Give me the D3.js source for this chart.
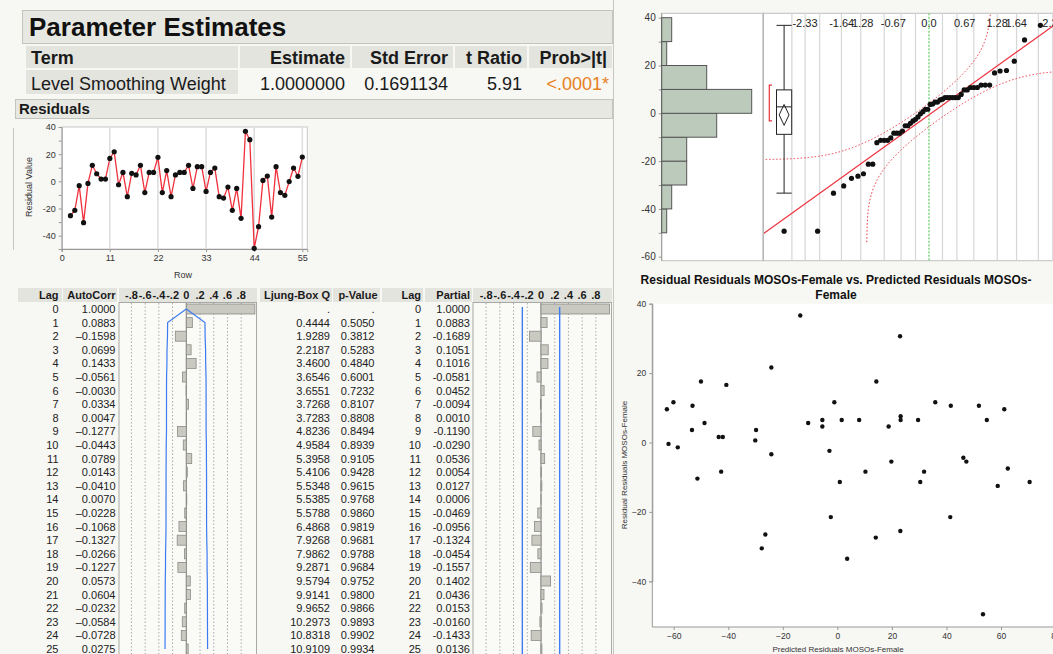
<!DOCTYPE html>
<html><head><meta charset="utf-8">
<script src="https://cdn.jsdelivr.net/npm/d3@7"></script>
<style>
html,body{margin:0;padding:0;background:#f7f7f3;}
svg{display:block;font-family:"Liberation Sans",Arial,Helvetica,sans-serif;}
</style></head><body>
<svg id="c" width="1053" height="654"></svg>
<script>
// ---------------- DATA ----------------
const paramHeaders = ["Term","Estimate","Std Error","t Ratio","Prob>|t|"];
const paramRow = ["Level Smoothing Weight","1.0000000","0.1691134","5.91","<.0001*"];

const firstRow = 2;
const residuals = [-25.3,-21.3,-3.2,-30.4,-1.5,11.8,5.6,1.7,1.7,16.9,21.8,-2.5,6.6,-11.3,5.9,4.7,11.8,-8.3,6.6,6.6,17.7,-8.3,7.9,-11.3,4.7,6.6,6.6,11.8,-5.2,10.8,10.8,-7.4,6.6,9.8,-11.3,-12.3,-4.2,-21.3,-5.2,-27.2,36.8,30.7,-49.3,-33.4,0.7,3.9,-26.3,10.8,-8.3,-10.3,-0.2,9.8,3.7,17.9];
const rowTicks = [0,11,22,33,44,55];
const residTicks = [-40,-20,0,20,40];

const lags = [0,1,2,3,4,5,6,7,8,9,10,11,12,13,14,15,16,17,18,19,20,21,22,23,24,25];
const autocorr = [1.0000,0.0883,-0.1598,0.0699,0.1433,-0.0561,-0.0030,0.0334,0.0047,-0.1277,-0.0443,0.0789,0.0143,-0.0410,0.0070,-0.0228,-0.1068,-0.1327,-0.0266,-0.1227,0.0573,0.0604,-0.0232,-0.0584,-0.0728,0.0275];
const ljungBox = [null,0.4444,1.9289,2.2187,3.4600,3.6546,3.6551,3.7268,3.7283,4.8236,4.9584,5.3958,5.4106,5.5348,5.5385,5.5788,6.4868,7.9268,7.9862,9.2871,9.5794,9.9141,9.9652,10.2973,10.8318,10.9109];
const pValues = [null,0.5050,0.3812,0.5283,0.4840,0.6001,0.7232,0.8107,0.8808,0.8494,0.8939,0.9105,0.9428,0.9615,0.9768,0.9860,0.9819,0.9681,0.9788,0.9684,0.9752,0.9800,0.9866,0.9893,0.9902,0.9934];
const partial = [1.0000,0.0883,-0.1689,0.1051,0.1016,-0.0581,0.0452,-0.0094,0.0010,-0.1190,-0.0290,0.0536,0.0054,0.0127,0.0006,-0.0469,-0.0956,-0.1324,-0.0454,-0.1557,0.1402,0.0436,0.0153,-0.0160,-0.1433,0.0136];
const corrTicks = [-0.8,-0.6,-0.4,-0.2,0,0.2,0.4,0.6,0.8];
const corrTickLabels = ["-.8","-.6","-.4","-.2","0",".2",".4",".6",".8"];

const distTicks = [-60,-40,-20,0,20,40];
const quantileLabelZ = [-2.33,-1.64,-1.28,-0.67,0,0.67,1.28,1.64,2.33];
const quantileLabels = ["-2.33","-1.64","1.28","-0.67","0.0","0.67","1.28","1.64","2.33"];
const gridProbs = [0.005,0.01,0.02,0.05,0.1,0.2,0.3,0.4,0.5,0.6,0.7,0.8,0.9,0.95,0.98,0.99,0.995];

const scatterX = [-62.5,-61.9,-60.1,-58.5,-53.1,-53.3,-50.0,-48.7,-43.5,-42.0,-40.7,-30.1,-29.8,-24.2,-24.2,-13.6,-10.7,-5.5,-5.5,-2.9,-1.1,1.6,8.0,14.3,18.8,23.0,23.2,23.2,29.6,35.9,41.6,46.2,51.9,54.8,61.2,-51.3,-42.6,0.9,10.3,19.8,30.4,31.8,47.3,58.8,62.5,70.5,-2.4,-26.4,-27.7,3.6,14.1,23.1,41.4,53.4];
const scatterY = [9.6,-0.4,11.6,-1.4,10.6,3.6,17.6,5.6,1.6,1.6,16.6,0.6,3.6,21.6,-3.4,36.6,5.6,6.5,4.6,-2.4,11.6,6.5,6.5,17.6,4.6,30.6,7.6,6.5,6.5,11.6,10.6,-4.4,10.6,6.5,9.6,-10.4,-8.4,-11.4,-8.4,-5.5,-11.4,-8.4,-5.5,-12.5,-7.5,-11.4,-21.5,-26.5,-30.5,-33.5,-27.4,-25.5,-21.5,-49.5];
const scatterXTicks = [-60,-40,-20,0,20,40,60,80];
const scatterYTicks = [-40,-20,0,20,40];

// ---------------- HELPERS ----------------
function qnorm(p){
 const a=[-3.969683028665376e+01,2.209460984245205e+02,-2.759285104469687e+02,1.383577518672690e+02,-3.066479806614716e+01,2.506628277459239e+00];
 const b=[-5.447609879822406e+01,1.615858368580409e+02,-1.556989798598866e+02,6.680131188771972e+01,-1.328068155288572e+01];
 const c=[-7.784894002430293e-03,-3.223964580411365e-01,-2.400758277161838e+00,-2.549732539343734e+00,4.374664141464968e+00,2.938163982698783e+00];
 const d=[7.784695709041462e-03,3.224671290700398e-01,2.445134137142996e+00,3.754408661907416e+00];
 const pl=0.02425, ph=1-pl; let q,r;
 if(p<pl){q=Math.sqrt(-2*Math.log(p));return (((((c[0]*q+c[1])*q+c[2])*q+c[3])*q+c[4])*q+c[5])/((((d[0]*q+d[1])*q+d[2])*q+d[3])*q+1);}
 if(p<=ph){q=p-0.5;r=q*q;return (((((a[0]*r+a[1])*r+a[2])*r+a[3])*r+a[4])*r+a[5])*q/(((((b[0]*r+b[1])*r+b[2])*r+b[3])*r+b[4])*r+1);}
 q=Math.sqrt(-2*Math.log(1-p));return -(((((c[0]*q+c[1])*q+c[2])*q+c[3])*q+c[4])*q+c[5])/((((d[0]*q+d[1])*q+d[2])*q+d[3])*q+1);
}
function pnorm(z){ // Abramowitz-Stegun
  const t=1/(1+0.2316419*Math.abs(z));
  const y=0.3989423*Math.exp(-z*z/2)*t*(0.3193815+t*(-0.3565638+t*(1.781478+t*(-1.821256+t*1.330274))));
  return z>0?1-y:y;
}
const svg = d3.select('#c');
function txt(g,x,y,s,o={}){
  const t=g.append('text').attr('x',x).attr('y',y).text(s)
   .attr('font-size',o.size||11).attr('fill',o.fill||'#1a1a1a')
   .attr('text-anchor',o.anchor||'start');
  if(o.bold) t.attr('font-weight','bold');
  if(o.rot!==undefined) t.attr('transform',`rotate(${o.rot},${x},${y})`);
  return t;
}
const fmt4 = v => v<0 ? "-"+Math.abs(v).toFixed(4) : v.toFixed(4);

// ---------------- PARAMETER ESTIMATES ----------------
svg.append('rect').attr('x',22.5).attr('y',10.5).attr('width',590).attr('height',33).attr('fill','#e8e8e3').attr('stroke','#c4c4bf');
txt(svg,29,36,"Parameter Estimates",{size:26,bold:true,fill:'#111'});
const cellX=[26,240,352,455,529], cellW=[212,110,101,72,83];
paramHeaders.forEach((h,i)=>{
  svg.append('rect').attr('x',cellX[i]).attr('y',46).attr('width',cellW[i]).attr('height',22).attr('fill','#e4e4df');
  if(i===0) txt(svg,31,64,h,{size:18,bold:true});
  else txt(svg,cellX[i]+cellW[i]-5,64,h,{size:18,bold:true,anchor:'end'});
});
svg.append('rect').attr('x',26).attr('y',70).attr('width',212).attr('height',24).attr('fill','#e4e4df');
paramRow.forEach((v,i)=>{
  if(i===0) txt(svg,31,90,v,{size:18});
  else txt(svg,cellX[i]+cellW[i]-(i===4?3:5),90,v,{size:18,anchor:'end',fill:i===4?'#e8801e':'#1a1a1a'});
});

// ---------------- RESIDUALS PLOT ----------------
svg.append('rect').attr('x',15.5).attr('y',99.5).attr('width',597).attr('height',19).attr('fill','#e8e8e3').attr('stroke','#c4c4bf');
txt(svg,19,114,"Residuals",{size:15,bold:true});
svg.append('line').attr('x1',13.5).attr('x2',13.5).attr('y1',128).attr('y2',250).attr('stroke','#c8c8c3');
const xR=d3.scaleLinear([0,56.14],[61.7,307.3]);
const yR=d3.scaleLinear([-49.8,40],[249,127]);
const gR=svg.append('g');
gR.append('rect').attr('x',61.7).attr('y',127).attr('width',245.6).attr('height',122).attr('fill','#fff').attr('stroke','#c8c8c8');
gR.selectAll('.vg').data(rowTicks.slice(1)).join('line').attr('x1',d=>xR(d)).attr('x2',d=>xR(d)).attr('y1',127).attr('y2',249).attr('stroke','#dcdcdc').attr('stroke-width',1.5);
gR.append('g').attr('transform','translate(61.7,0)').call(d3.axisLeft(yR).tickValues(d3.range(-40,41,10)).tickSize(3).tickFormat(d=>residTicks.includes(d)?d:'')).call(g=>{g.select('.domain').attr('stroke','#999');g.selectAll('line').attr('stroke','#999');g.selectAll('text').attr('font-size',9).attr('fill','#333').attr('font-family','inherit');});
gR.append('g').attr('transform','translate(0,249)').call(d3.axisBottom(xR).tickValues(rowTicks).tickSize(3)).call(g=>{g.select('.domain').attr('stroke','#999');g.selectAll('line').attr('stroke','#999');g.selectAll('text').attr('font-size',9).attr('fill','#333').attr('font-family','inherit');});
txt(gR,183,278,"Row",{size:9,anchor:'middle',fill:'#333'});
txt(gR,32,187,"Residual Value",{size:9,anchor:'middle',rot:-90,fill:'#333'});
gR.append('path').datum(residuals).attr('fill','none').attr('stroke','#f0303c').attr('stroke-width',1.3)
  .attr('d',d3.line().x((d,i)=>xR(i+firstRow)).y(d=>yR(d)));
gR.selectAll('.pt').data(residuals).join('circle').attr('cx',(d,i)=>xR(i+firstRow)).attr('cy',d=>yR(d)).attr('r',2.6).attr('fill','#111');

// ---------------- AUTOCORR TABLES ----------------
const rowY = k => 309 + 13.6*k;
const n = residuals.length;
function headerCell(x,w,label,anchorX,anchor){
  svg.append('rect').attr('x',x).attr('y',288).attr('width',w).attr('height',14).attr('fill','#e4e4df');
  if(label) txt(svg,anchorX,299,label,{size:11,bold:true,anchor:anchor||'end'});
}
headerCell(18,44,"Lag",58.5);
headerCell(63,54,"AutoCorr",115.5);
headerCell(119,138,null);
headerCell(260,72,"Ljung-Box Q",330);
headerCell(333,47,"p-Value",377.5);
headerCell(382,41,"Lag",421);
headerCell(425,47,"Partial",470);
headerCell(473,139,null);

function corrChart(x0,x1,zero,values,band){
  const sc=d3.scaleLinear([-1,1],[zero-68.6,zero+68.6]);
  const g=svg.append('g');
  g.append('rect').attr('x',x0+0.5).attr('y',302.5).attr('width',x1-x0).attr('height',360).attr('fill','#fafaf7').attr('stroke','#a8a8a4');
  corrTicks.forEach((t,i)=>{
    txt(svg,sc(t),299,corrTickLabels[i],{size:11,bold:true,anchor:'middle'});
    if(t!==0) g.append('line').attr('x1',sc(t)).attr('x2',sc(t)).attr('y1',303).attr('y2',654).attr('stroke','#aaa').attr('stroke-dasharray','1.5,2');
  });
  g.append('line').attr('x1',sc(0)).attr('x2',sc(0)).attr('y1',303).attr('y2',654).attr('stroke','#777');
  g.selectAll('.bar').data(values).join('rect')
   .attr('x',d=>Math.min(sc(0),sc(d))).attr('width',d=>Math.abs(sc(d)-sc(0)))
   .attr('y',(d,i)=>rowY(i)-5).attr('height',10)
   .attr('fill','#c9c9c1').attr('stroke','#8c8c86').attr('stroke-width',0.8);
  band(g,sc);
}
corrChart(118.5,256,186.3,autocorr,(g,sc)=>{
  // Bartlett bands
  let cum=0; const pts=[[0,rowY(0)]];
  const up=[[0,rowY(0)]];
  for(let k=1;k<lags.length;k++){
    const se=Math.sqrt((1+2*cum)/n);
    pts.push([-2*se,rowY(k)]); up.push([2*se,rowY(k)]);
    cum+=autocorr[k]*autocorr[k];
  }
  const ln=d3.line().x(d=>sc(d[0])).y(d=>d[1]);
  [pts,up].forEach(p=>g.append('path').attr('d',ln(p)).attr('fill','none').attr('stroke','#3c7bf0').attr('stroke-width',1.2));
});
corrChart(472.5,611,541,partial,(g,sc)=>{
  const b=2/Math.sqrt(n);
  [-b,b].forEach(v=>g.append('line').attr('x1',sc(v)).attr('x2',sc(v)).attr('y1',rowY(0)-2).attr('y2',654).attr('stroke','#3c7bf0').attr('stroke-width',1.4));
});
lags.forEach((k,i)=>{
  const y=rowY(i)+4;
  txt(svg,58.5,y,String(k),{size:11,anchor:'end',fill:'#222'});
  txt(svg,115.5,y,fmt4(autocorr[i]).replace('-','\u2013'),{size:11,anchor:'end',fill:'#222'});
  txt(svg,330,y,ljungBox[i]===null?'.':ljungBox[i].toFixed(4),{size:11,anchor:'end',fill:'#222'});
  txt(svg,374.5,y,pValues[i]===null?'.':pValues[i].toFixed(4),{size:11,anchor:'end',fill:'#222'});
  txt(svg,421,y,String(k),{size:11,anchor:'end',fill:'#222'});
  txt(svg,470,y,fmt4(partial[i]),{size:11,anchor:'end',fill:'#222'});
});

// ---------------- DISTRIBUTION (top right) ----------------
svg.append('line').attr('x1',613.5).attr('x2',613.5).attr('y1',0).attr('y2',654).attr('stroke','#c8c8c3');
const yQ=d3.scaleLinear([-60,40],[256.7,17.7]);
const pTop=13.3, pBot=260.7;
svg.append('rect').attr('x',661.7).attr('y',pTop).attr('width',101.6).attr('height',pBot-pTop).attr('fill','#fff').attr('stroke','#c0c0c0');
svg.append('rect').attr('x',763.3).attr('y',pTop).attr('width',300).attr('height',pBot-pTop).attr('fill','#fff').attr('stroke','#c0c0c0');
svg.append('line').attr('x1',763.3).attr('x2',763.3).attr('y1',pTop).attr('y2',pBot).attr('stroke','#b8b8b8').attr('stroke-width',1.5);
svg.append('g').attr('transform','translate(661.7,0)').call(d3.axisLeft(yQ).tickValues(d3.range(-60,41,10)).tickSize(3).tickFormat(d=>distTicks.includes(d)?d:''))
 .call(g=>{g.select('.domain').remove();g.selectAll('line').attr('stroke','#999');g.selectAll('text').attr('font-size',10).attr('fill','#333').attr('font-family','inherit');});
svg.append('line').attr('x1',661.7).attr('x2',661.7).attr('y1',pTop).attr('y2',pBot).attr('stroke','#999');
// histogram
const bins=d3.bin().domain([-50,40]).thresholds(d3.range(-40,40,10))(residuals);
const xH=d3.scaleLinear([0,18],[661.7,751.7]);
svg.selectAll('.hb').data(bins).join('rect').attr('x',xH(0)).attr('width',d=>xH(d.length)-xH(0))
 .attr('y',d=>yQ(d.x1)).attr('height',d=>yQ(d.x0)-yQ(d.x1)).attr('fill','#bccabb').attr('stroke','#555').attr('stroke-width',1);

// quantile plot
const clip=svg.append('clipPath').attr('id','qc').append('rect').attr('x',764).attr('y',pTop).attr('width',300).attr('height',pBot-pTop);
const gQ=svg.append('g').attr('clip-path','url(#qc)');
const xQ=d3.scaleLinear([-1,1],[929-53.23,929+53.23]);
gridProbs.forEach(p=>{
  const z=qnorm(p);
  gQ.append('line').attr('x1',xQ(z)).attr('x2',xQ(z)).attr('y1',pTop).attr('y2',pBot)
   .attr('stroke',p===0.5?'#3cc23c':'#d6d6d6').attr('stroke-width',p===0.5?1:1.2).attr('stroke-dasharray',p===0.5?'2,1.5':null);
});
// box plot
const sorted=residuals.slice().sort(d3.ascending);
const qJ=p=>{const pos=p*(n+1);const i=Math.floor(pos);const f=pos-i;return sorted[i-1]+f*(sorted[i]-sorted[i-1]);};
const q1=qJ(0.25), q3=qJ(0.75), med=qJ(0.5), iqr=q3-q1;
const wHi=d3.max(sorted.filter(v=>v<=q3+1.5*iqr)), wLo=d3.min(sorted.filter(v=>v>=q1-1.5*iqr));
const mean=d3.mean(residuals), sd=d3.deviation(residuals);
const ci=2.006*sd/Math.sqrt(n);
const bx0=776.5,bx1=791.7,bc=(bx0+bx1)/2;
const gB=svg.append('g').attr('stroke','#222').attr('fill','none').attr('stroke-width',1);
gB.append('rect').attr('x',bx0).attr('y',yQ(q3)).attr('width',bx1-bx0).attr('height',yQ(q1)-yQ(q3)).attr('fill','#fff');
gB.append('line').attr('x1',bx0).attr('x2',bx1).attr('y1',yQ(med)).attr('y2',yQ(med));
gB.append('line').attr('x1',bc).attr('x2',bc).attr('y1',yQ(wHi)).attr('y2',yQ(q3));
gB.append('line').attr('x1',bc).attr('x2',bc).attr('y1',yQ(q1)).attr('y2',yQ(wLo));
gB.append('line').attr('x1',bx0).attr('x2',bx1).attr('y1',yQ(wHi)).attr('y2',yQ(wHi));
gB.append('line').attr('x1',bx0).attr('x2',bx1).attr('y1',yQ(wLo)).attr('y2',yQ(wLo));
gB.append('path').attr('d',`M${bc},${yQ(mean+ci)}L${bx1-2.7},${yQ(mean)}L${bc},${yQ(mean-ci)}L${bx0+2.7},${yQ(mean)}Z`);
svg.selectAll('.out').data(sorted.filter(v=>v<wLo||v>wHi)).join('circle').attr('cx',bc).attr('cy',d=>yQ(d)).attr('r',2.6).attr('fill','#111');
// shortest half
const h=Math.floor(n/2); let best=0;
for(let i=0;i+h<n;i++){ if(sorted[i+h]-sorted[i] < sorted[best+h]-sorted[best]) best=i; }
const shLo=sorted[best], shHi=sorted[best+h];
svg.append('path').attr('d',`M772,${yQ(shHi)}H769.3V${yQ(shLo)}H772`).attr('fill','none').attr('stroke','#e8303a').attr('stroke-width',1.2);
// fit line and Lilliefors bands
gQ.append('line').attr('x1',xQ(-3.2)).attr('x2',xQ(3.2)).attr('y1',yQ(mean-3.2*sd)).attr('y2',yQ(mean+3.2*sd)).attr('stroke','#ee3340').attr('stroke-width',1.2);
const D=0.886/Math.sqrt(n);
const zs=d3.range(-3.2,3.2001,0.01);
const upperB=zs.filter(z=>pnorm(z)+D<0.99995).map(z=>[z,mean+sd*qnorm(pnorm(z)+D)]);
const lowerB=zs.filter(z=>pnorm(z)-D>0.00005).map(z=>[z,mean+sd*qnorm(pnorm(z)-D)]);
const lnQ=d3.line().x(d=>xQ(d[0])).y(d=>yQ(d[1]));
[upperB,lowerB].forEach(b=>gQ.append('path').attr('d',lnQ(b)).attr('fill','none').attr('stroke','#ee3340').attr('stroke-width',1).attr('stroke-dasharray','1.5,2'));
gQ.selectAll('.qp').data(sorted).join('circle').attr('cx',(d,i)=>xQ(qnorm((i+1)/(n+1)))).attr('cy',d=>yQ(d)).attr('r',2.6).attr('fill','#111');
quantileLabelZ.forEach((z,i)=>txt(svg,xQ(z),27,(z===-1.28?'-1.28':quantileLabels[i]),{size:11,anchor:'middle',fill:'#222'}));

// ---------------- SCATTER ----------------
txt(svg,836,284,"Residual Residuals MOSOs-Female vs. Predicted Residuals MOSOs-",{size:12,bold:true,anchor:'middle',fill:'#111'});
txt(svg,836,298.5,"Female",{size:12,bold:true,anchor:'middle',fill:'#111'});
const xS=d3.scaleLinear([-60,60],[673.7,1001]);
const yS=d3.scaleLinear([-40,40],[581.3,303.7]);
svg.append('rect').attr('x',652.3).attr('y',303.7).attr('width',420).attr('height',323.3).attr('fill','#fff');
svg.append('g').attr('transform','translate(652.3,0)').call(d3.axisLeft(yS).tickValues(scatterYTicks).tickSize(3))
 .call(g=>{g.select('.domain').attr('stroke','#999');g.selectAll('line').attr('stroke','#999');g.selectAll('text').attr('font-size',8.5).attr('fill','#333').attr('font-family','inherit');});
svg.append('line').attr('x1',652.3).attr('x2',652.3).attr('y1',303.7).attr('y2',627).attr('stroke','#999');
svg.append('g').attr('transform','translate(0,627)').call(d3.axisBottom(xS).tickValues(scatterXTicks).tickSize(3))
 .call(g=>{g.select('.domain').remove();g.selectAll('line').attr('stroke','#999');g.selectAll('text').attr('font-size',8.5).attr('fill','#333').attr('font-family','inherit');});
svg.append('line').attr('x1',652.3).attr('x2',1053).attr('y1',627).attr('y2',627).attr('stroke','#999');
txt(svg,838,652,"Predicted Residuals MOSOs-Female",{size:8,anchor:'middle',fill:'#333'});
txt(svg,627,465,"Residual Residuals MOSOs-Female",{size:8,anchor:'middle',rot:-90,fill:'#333'});
svg.selectAll('.sp').data(scatterX).join('circle').attr('cx',d=>xS(d)).attr('cy',(d,i)=>yS(scatterY[i])).attr('r',2.2).attr('fill','#111');
</script>
</body></html>
